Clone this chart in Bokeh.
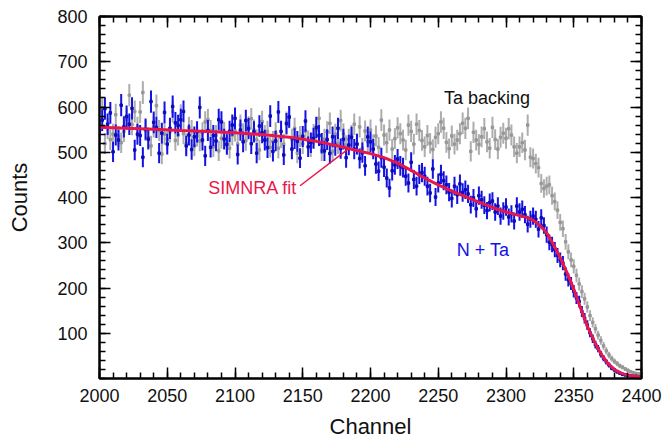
import numpy as np
from bokeh.plotting import figure
from bokeh.models import (Range1d, FixedTicker, LinearAxis, ColumnDataSource, Label,
                          CustomLabelingPolicy)
from bokeh.embed import file_html
from bokeh.resources import INLINE

# channel step of the spectra
channel_start = 2000
channel_step = 2

# N + Ta spectrum, channels 2000, 2002, ..., 2400
nta_counts = [
    548, 571, 596, 562, 587,
    501, 538, 527, 604, 556,
    579, 562, 597, 505, 540,
    537, 489, 551, 529, 612,
    566, 555, 498, 542, 588,
    518, 553, 601, 565, 559,
    572, 590, 514, 538, 506,
    534, 545, 599, 527, 492,
    548, 511, 537, 525, 572,
    567, 529, 517, 546, 560,
    575, 495, 549, 523, 570,
    552, 519, 545, 498, 558,
    543, 527, 510, 580, 502,
    525, 589, 546, 494, 563,
    578, 507, 530, 524, 487,
    535, 569, 512, 521, 531,
    555, 537, 520, 503, 528,
    497, 534, 515, 553, 508,
    529, 488, 516, 533, 507,
    518, 486, 499, 470, 534,
    523, 507, 474, 458, 488,
    467, 443, 421, 459, 472,
    485, 470, 466, 447, 432,
    478, 440, 425, 451, 455,
    447, 425, 410, 463, 401,
    432, 451, 437, 428, 412,
    398, 425, 406, 430, 411,
    417, 408, 384, 399, 375,
    404, 395, 383, 371, 389,
    392, 368, 381, 359, 370,
    379, 357, 364, 348, 381,
    368, 374, 362, 341, 352,
    359, 352, 330, 355, 338,
    318, 301, 296, 285, 272,
    262, 255, 231, 218, 210,
    193, 178, 170, 148, 133,
    118, 101, 88, 75, 66,
    54, 45, 37, 30, 23,
    19, 15, 12, 9, 8,
    7, 6, 5, 5, 4,
    4,
]

# Ta backing spectrum, channels 2000, 2002, ..., 2400
ta_counts = [
    560, 598, 519, 553, 528,
    540, 583, 535, 521, 546,
    573, 626, 561, 590, 555,
    589, 632, 548, 532, 514,
    556, 603, 548, 496, 540,
    529, 545, 590, 526, 538,
    582, 541, 519, 555, 548,
    514, 536, 525, 543, 567,
    572, 548, 512, 537, 503,
    531, 544, 521, 509, 538,
    547, 518, 560, 541, 526,
    556, 574, 549, 528, 505,
    568, 537, 546, 511, 524,
    543, 509, 532, 518, 566,
    577, 529, 553, 498, 535,
    519, 547, 525, 512, 539,
    550, 575, 503, 529, 545,
    564, 502, 540, 519, 570,
    541, 515, 529, 537, 562,
    518, 556, 509, 547, 523,
    549, 517, 536, 511, 571,
    538, 521, 549, 507, 530,
    554, 541, 527, 505, 560,
    546, 518, 562, 548, 526,
    512, 537, 520, 506, 533,
    541, 567, 553, 522, 508,
    536, 518, 527, 541, 564,
    553, 575, 502, 544, 527,
    517, 534, 552, 523, 509,
    555, 528, 507, 533, 542,
    531, 552, 538, 512, 498,
    512, 521, 505, 560, 489,
    486, 475, 466, 431, 420,
    425, 428, 404, 391, 372,
    345, 331, 302, 280, 262,
    248, 228, 209, 192, 176,
    158, 139, 124, 110, 96,
    84, 72, 61, 52, 44,
    38, 33, 28, 25, 21,
    18, 15, 13, 11, 10,
    8,
]

# SIMNRA fit
fit_channels = [2000, 2020, 2040, 2060, 2080, 2100, 2120, 2140, 2150, 2160,
                2170, 2180, 2190, 2200, 2210, 2220, 2230, 2240, 2250, 2260,
                2270, 2280, 2290, 2300, 2310, 2315, 2320, 2325, 2330, 2335,
                2340, 2345, 2350, 2355, 2360, 2365, 2370, 2375, 2380, 2385,
                2390, 2395, 2400]
fit_counts = [555, 553, 551, 548, 546, 543, 539, 533, 529, 524,
              518, 511, 504, 497, 488, 476, 460, 443, 428, 414,
              402, 390, 378, 368, 360, 356, 350, 338, 322, 296,
              267, 234, 198, 156, 116, 83, 55, 34, 20, 12,
              7, 5, 4]

x_ticks = [2000, 2050, 2100, 2150, 2200, 2250, 2300, 2350, 2400]
y_ticks = [100, 200, 300, 400, 500, 600, 700, 800]

FONT = "Liberation Sans"
BLUE = "#1212e6"
DARK_BLUE = "#0c0cb8"
GRAY = "#adadad"
DARK_GRAY = "#979797"
RED = "#e8174a"


def make_source(counts):
    x = channel_start + channel_step * np.arange(len(counts))
    y = np.array(counts, dtype=float)
    err = np.sqrt(y)
    return ColumnDataSource(dict(x=x, y=y, lo=y - err, hi=y + err))


p = figure(width=664, height=441, x_range=Range1d(2000, 2400), y_range=Range1d(0, 800),
           output_backend="svg", toolbar_location=None,
           min_border_left=99, min_border_right=23, min_border_top=16, min_border_bottom=63)
p.xgrid.visible = False
p.ygrid.visible = False
p.outline_line_color = "black"
p.outline_line_width = 2
p.background_fill_color = "white"
p.border_fill_color = "white"

xt = FixedTicker(ticks=x_ticks, minor_ticks=list(range(2000, 2401, 10)))
yt = FixedTicker(ticks=y_ticks, minor_ticks=list(range(0, 801, 20)))

NO_LABELS = CustomLabelingPolicy(code="""
for (const i of indices) { indices.unset(i) }
return indices
""")


def style_axis(ax, labels=True):
    ax.major_tick_in = 11
    ax.major_tick_out = 0
    ax.minor_tick_in = 6
    ax.minor_tick_out = 0
    ax.axis_line_width = 2
    ax.axis_line_color = "black"
    ax.major_tick_line_width = 1.5
    ax.minor_tick_line_width = 1.5
    ax.major_tick_line_color = "black"
    ax.minor_tick_line_color = "black"
    ax.major_label_text_font = FONT
    ax.major_label_text_color = "#111111"
    ax.axis_label_text_font = FONT
    ax.axis_label_text_font_style = "normal"
    ax.axis_label_text_color = "#111111"
    if not labels:
        ax.major_label_policy = NO_LABELS
        ax.major_label_standoff = 0


p.xaxis.ticker = xt
p.yaxis.ticker = yt
style_axis(p.xaxis[0])
style_axis(p.yaxis[0])
p.xaxis.axis_label = "Channel"
p.yaxis.axis_label = "Counts"
p.xaxis.major_label_text_font_size = "18px"
p.yaxis.major_label_text_font_size = "18px"
p.xaxis.axis_label_text_font_size = "22px"
p.yaxis.axis_label_text_font_size = "22px"
p.xaxis.major_label_standoff = 10
p.yaxis.major_label_standoff = 12
p.xaxis.axis_label_standoff = 9
p.yaxis.axis_label_standoff = 22

top = LinearAxis(ticker=xt)
style_axis(top, labels=False)
p.add_layout(top, "above")
right = LinearAxis(ticker=yt)
style_axis(right, labels=False)
p.add_layout(right, "right")

ta_src = make_source(ta_counts)
nta_src = make_source(nta_counts)

p.segment(x0="x", y0="lo", x1="x", y1="hi", source=ta_src, line_color=GRAY, line_width=2)
p.scatter(x="x", y="y", source=ta_src, marker="square", size=2.5, color=DARK_GRAY)
p.segment(x0="x", y0="lo", x1="x", y1="hi", source=nta_src, line_color=BLUE, line_width=2)
p.scatter(x="x", y="y", source=nta_src, marker="square", size=2.5, color=DARK_BLUE)

p.line(fit_channels, fit_counts, line_color=RED, line_width=3)

# pointer for the fit label
p.segment(x0=[2148], y0=[426], x1=[2183], y1=[506], line_color=RED, line_width=1.5)

p.add_layout(Label(x=2146, y=420, text="SIMNRA fit", text_align="right", text_baseline="middle",
                   text_font=FONT, text_font_size="18px", text_color=RED))
p.add_layout(Label(x=2286, y=619, text="Ta backing", text_align="center", text_baseline="middle",
                   text_font=FONT, text_font_size="18px", text_color="#111111"))
p.add_layout(Label(x=2283, y=283, text="N + Ta", text_align="center", text_baseline="middle",
                   text_font=FONT, text_font_size="18px", text_color=BLUE))

open("out.html", "w").write(file_html(p, INLINE))
